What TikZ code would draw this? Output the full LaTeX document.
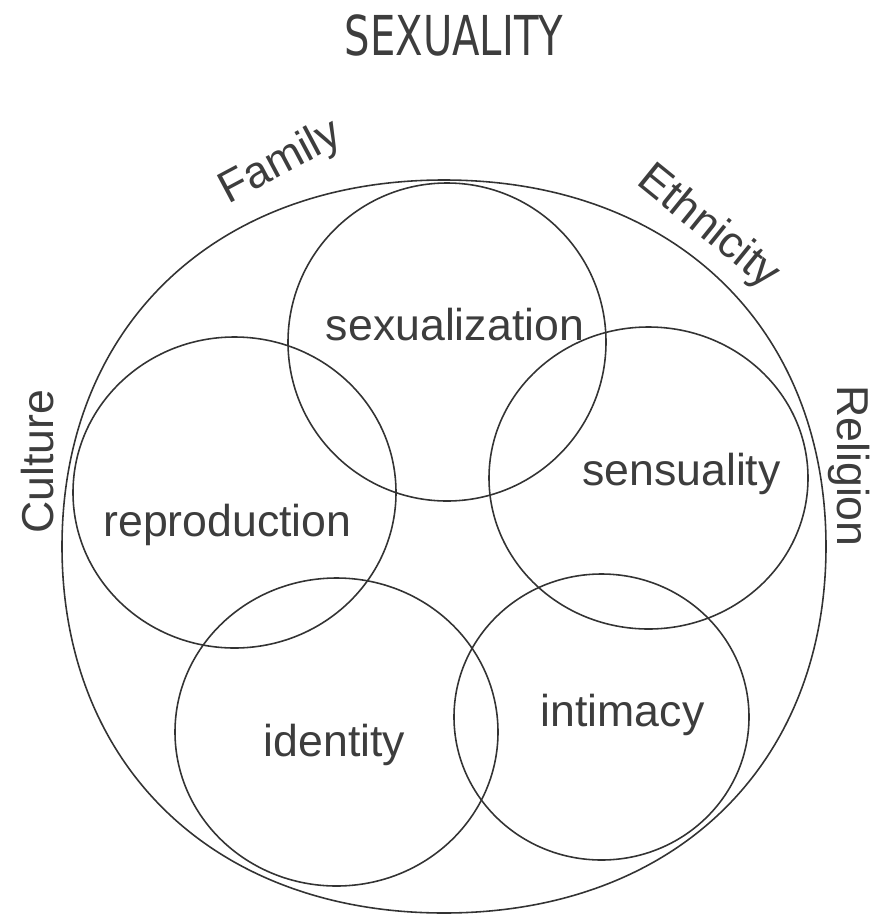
\documentclass[tikz,border=0pt]{standalone}
\usepackage{fontspec}
\usepackage{graphicx}
\usepackage{xcolor}
\usepackage{tikz}
\setmainfont{Liberation Sans}
\newfontfamily\titlefont{DejaVu Sans}
\definecolor{linegray}{gray}{0.2}
\definecolor{inkgray}{gray}{0.24}

\begin{document}
\begin{tikzpicture}[scale=0.2,
  part/.style={anchor=base,text=inkgray,font=\fontsize{25.4}{30}\selectfont},
  factor/.style={anchor=center,text=inkgray,font=\fontsize{25.4}{30}\selectfont}]
\tikzstyle{every node}+=[inner sep=0pt]
\useasboundingbox (0,0) rectangle (87.2,-91.6);
% outer boundary
\draw [linegray,line width=0.9pt] (44.4,-18) .. controls (67.32,-18) and (82.6,-32.66) .. (82.6,-54.65)
  .. controls (82.6,-76.64) and (67.32,-91.3) .. (44.4,-91.3)
  .. controls (21.48,-91.3) and (6.2,-76.64) .. (6.2,-54.65)
  .. controls (6.2,-32.66) and (21.48,-18) .. cycle;
% five circles
\draw [linegray,line width=0.9pt] (44.7,-34.2) ellipse (15.9 and 15.9);
\draw [linegray,line width=0.9pt] (23.45,-49.25) ellipse (16.15 and 15.55);
\draw [linegray,line width=0.9pt] (64.85,-47.8) ellipse (15.95 and 15.1);
\draw [linegray,line width=0.9pt] (33.65,-73.2) ellipse (16.15 and 15.4);
\draw [linegray,line width=0.9pt] (60.15,-71.7) ellipse (14.75 and 14.3);
\draw (45.5,-34) node [part] (sexualization) {sexualization};
\draw (22.75,-53.6) node [part] (reproduction) {reproduction};
\draw (68.15,-48.5) node [part] (sensuality) {sensuality};
\draw (33.45,-75.6) node [part] (identity) {identity};
\draw (62.25,-72.6) node [part] (intimacy) {intimacy};
% influences around the outside
\draw (45.4,-3.5) node [anchor=center,text=inkgray] (title) {\titlefont\fontsize{31.3}{36}\selectfont\scalebox{0.73}[1]{SEXUALITY}};
\draw (28.1,-16.3) node [factor,rotate=28] (family) {Family};
\draw (70.8,-22.8) node [factor,rotate=-39] (ethnicity) {Ethnicity};
\draw (3.8,-46.2) node [factor,rotate=90] (culture) {Culture};
\draw (84.9,-46.6) node [factor,rotate=-90] (religion) {Religion};
\end{tikzpicture}
\end{document}
